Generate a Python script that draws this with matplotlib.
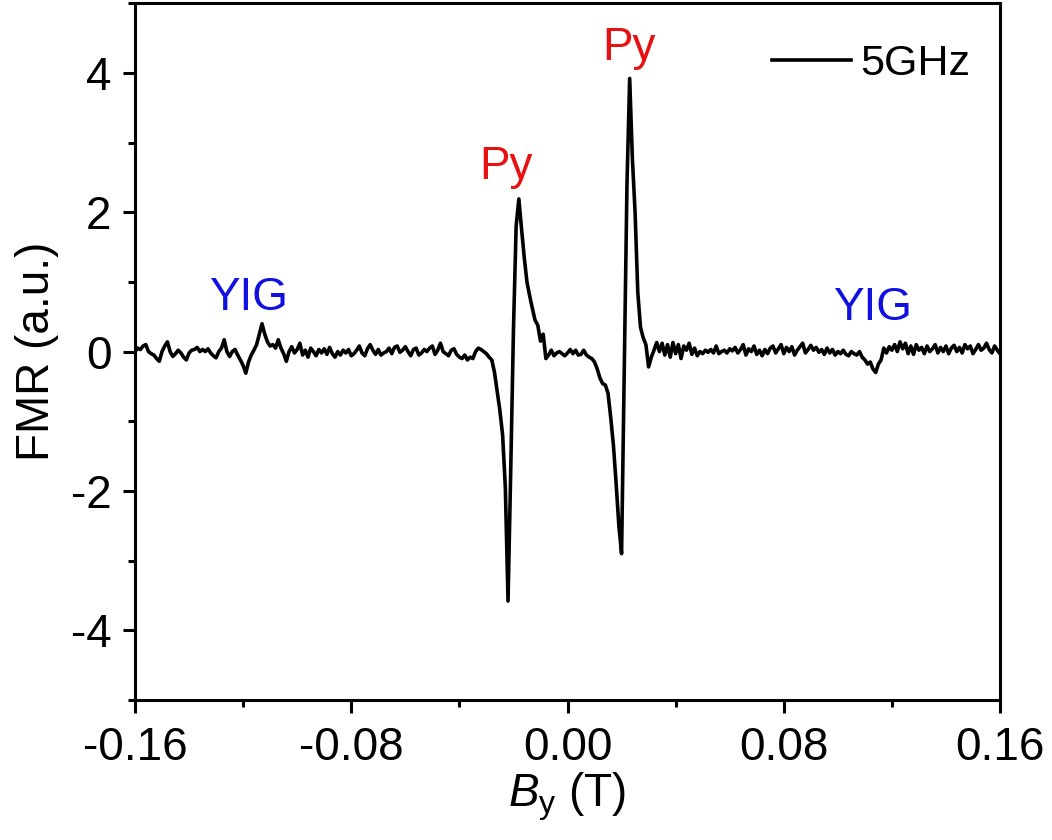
import numpy as np
import matplotlib
matplotlib.use("Agg")
import matplotlib.pyplot as plt
from matplotlib.ticker import MultipleLocator, FormatStrFormatter

plt.rcParams['font.family'] = ['Liberation Sans', 'DejaVu Sans']
plt.rcParams['mathtext.fontset'] = 'custom'
plt.rcParams['mathtext.rm'] = 'Liberation Sans'
plt.rcParams['mathtext.it'] = 'Liberation Sans:italic'
plt.rcParams['axes.unicode_minus'] = False

# FMR signal (a.u.), field sweep -0.16 .. 0.16 T in 1 mT steps
seg_left = [0.0, 0.05, 0.03, 0.08, 0.1, 0.0, -0.03, -0.05, -0.1, -0.14,
            0.0, 0.08, 0.14, 0.0, -0.07, -0.03, 0.02, -0.02, -0.08, -0.12,
            -0.02, 0.02, 0.03, 0.06, 0.0, 0.03, 0.0, 0.04, -0.02, -0.06]
seg_yig1 = [-0.09, 0.0, 0.05, 0.17, 0.0, -0.07, 0.0, 0.03, -0.05, -0.12,
            -0.2, -0.31, -0.15, -0.05, 0.02, 0.1, 0.25, 0.40, 0.25, 0.14,
            0.08, 0.1, 0.05, 0.17, 0.05, -0.03, -0.14, 0.0, 0.07, -0.02, 0.03]
seg_mid1 = [0.12, -0.05, 0.02, -0.08, 0.05, 0.0, -0.06, 0.03, -0.02, 0.04,
            -0.04, 0.06, -0.03, -0.08, 0.0, -0.05, 0.02, -0.02, 0.03, -0.06,
            -0.03, 0.02, 0.08, -0.02, -0.06, 0.04, 0.1, 0.02, -0.04, 0.03,
            -0.05, -0.02, 0.0, 0.05, -0.03, 0.06, 0.08, -0.01, 0.02, 0.07,
            0.0, -0.06, 0.03, 0.05, -0.05, -0.02, 0.03, 0.0, 0.05, 0.08,
            -0.04, 0.02, 0.12, 0.0, -0.03, -0.06, 0.02, 0.04, -0.04, -0.08,
            -0.1, -0.05, -0.12, -0.08, -0.1, 0.0, 0.05, 0.03]
seg_py1 = [0.0, -0.03, -0.08, -0.12, -0.3, -0.58, -0.85, -1.2, -1.95, -3.58,
           -1.7, 0.3, 1.8, 2.19, 1.76, 1.35, 1.0, 0.8, 0.62, 0.45,
           0.38, 0.15, 0.25, -0.1]
seg_py2 = [-0.05, 0.02, -0.06, -0.02, 0.0, -0.03, -0.06, -0.02, 0.03, -0.03,
           0.02, -0.05, -0.04, 0.02, -0.05, -0.08, -0.1, -0.15, -0.25, -0.38,
           -0.46, -0.48, -0.6, -0.95, -1.35, -1.9, -2.5, -2.9, -0.2, 2.4,
           3.92, 2.77, 2.0, 0.85, 0.35, 0.2, 0.1, -0.22, -0.08, 0.02,
           0.13, 0.0]
seg_right = [0.12, -0.05, 0.1, -0.08, 0.13, -0.03, 0.1, -0.1, 0.08, 0.02,
             0.12, -0.04, 0.05, -0.06, 0.0, -0.03, 0.02, -0.01, 0.03, -0.02,
             0.08, -0.03, 0.0, 0.02, -0.02, 0.04, 0.01, 0.06, -0.02, 0.03,
             0.1, -0.05, 0.04, 0.0, 0.08, -0.04, 0.02, -0.06, 0.03, -0.03,
             0.05, 0.08, -0.02, 0.04, 0.1, -0.03, 0.06, 0.0, 0.07, -0.05,
             0.02, 0.07, 0.12, -0.02, 0.03, 0.09, 0.02, 0.06, -0.01, 0.03,
             -0.04, 0.05, -0.02, 0.03, -0.05, 0.0, -0.03, 0.02, -0.04, -0.06,
             0.0, -0.03, -0.05, 0.0, -0.08, -0.12, -0.18, -0.15, -0.25, -0.3,
             -0.18, -0.12, 0.05, -0.02, 0.07, 0.02, 0.1, 0.0, 0.14, 0.04,
             0.12, -0.03, 0.08, -0.04, 0.1, 0.02, 0.06, -0.03, 0.08, 0.0,
             0.04, 0.1, -0.02, 0.06, 0.0, 0.08, -0.03, 0.05, 0.09, 0.0,
             0.06, -0.02, 0.1, 0.04, 0.08, -0.03, 0.03, 0.1, 0.02, 0.05,
             0.12, 0.03, -0.02, 0.08, 0.02, -0.03]

fmr = np.array(seg_left + seg_yig1 + seg_mid1 + seg_py1 + seg_py2 + seg_right)
field = np.linspace(-0.16, 0.16, len(fmr))

# labels: (text, x, y, colour)
labels = [("YIG", -0.1182, 0.6, "#1010e0"),
          ("YIG", 0.1128, 0.46, "#1010e0"),
          ("Py", -0.0226, 2.48, "#e81010"),
          ("Py", 0.0229, 4.18, "#e81010")]

fig = plt.figure(figsize=(10.52, 8.4), dpi=100)
ax = fig.add_axes([0.1283, 0.1667, 0.8223, 0.8295])

ax.plot(field, fmr, color="black", lw=2.6, label="5GHz")

for txt, x, y, c in labels:
    ax.text(x, y, txt, color=c, fontsize=33, ha="center", va="baseline")

ax.set_xlim(-0.16, 0.16)
ax.set_ylim(-5, 5)
ax.xaxis.set_major_locator(MultipleLocator(0.08))
ax.xaxis.set_minor_locator(MultipleLocator(0.04))
ax.xaxis.set_major_formatter(FormatStrFormatter("%.2f"))
ax.yaxis.set_major_locator(MultipleLocator(2))
ax.yaxis.set_minor_locator(MultipleLocator(1))

for s in ax.spines.values():
    s.set_linewidth(2.2)
ax.tick_params(which="both", direction="out", top=False, right=False, width=2.2)
ax.tick_params(which="major", length=9, labelsize=33)
ax.tick_params(axis="x", which="major", pad=10)
ax.tick_params(axis="y", which="major", pad=8)
ax.tick_params(which="minor", length=5)

ax.set_xlabel(r"$B_\mathrm{y}$ (T)", fontsize=33, labelpad=0)
ax.set_ylabel("FMR (a.u.)", fontsize=33, labelpad=8)

leg = ax.legend(loc="upper right", frameon=False, fontsize=31, handlelength=1.85,
                handletextpad=0.2, borderaxespad=0.3, bbox_to_anchor=(1.0, 0.985))

fig.savefig("out.png", dpi=100)
